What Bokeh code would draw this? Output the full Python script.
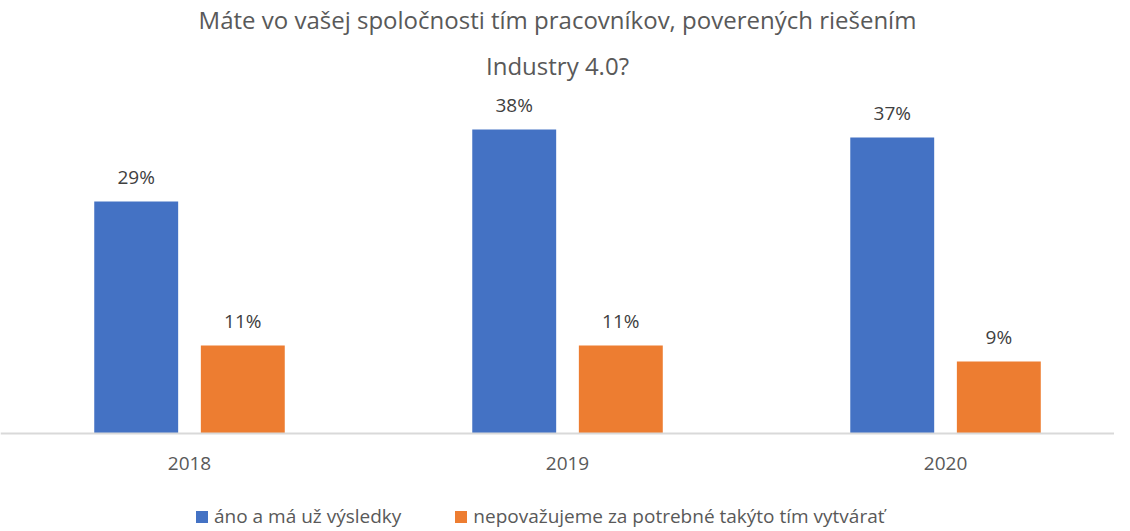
from bokeh.plotting import figure
from bokeh.models import ColumnDataSource, Range1d, FixedTicker, Title, Legend, LegendItem
from bokeh.transform import dodge
from bokeh.core.properties import value
from bokeh.embed import file_html
from bokeh.resources import INLINE

title_lines = ["Máte vo vašej spoločnosti tím pracovníkov, poverených riešením", "Industry 4.0?"]
years = ["2018", "2019", "2020"]
series_names = ["áno a má už výsledky", "nepovažujeme za potrebné takýto tím vytvárať"]
ano = [29, 38, 37]
nepovazujeme = [11, 11, 9]
colors = ["#4472C4", "#ED7D31"]

FONT = "Open Sans"
TXT = "#595959"

idx = list(range(len(years)))
src = ColumnDataSource(dict(
    x=idx, ano=ano, nep=nepovazujeme,
    ano_lbl=[f"{v}%" for v in ano], nep_lbl=[f"{v}%" for v in nepovazujeme],
))

# frame extends below the baseline so the legend can sit inside it
p = figure(frame_width=1114, frame_height=434, output_backend="svg", toolbar_location=None,
           x_range=Range1d(-0.5, 2.447), y_range=Range1d(-12.125, 42.125),
           min_border_left=0, min_border_right=0, min_border_top=0, min_border_bottom=0)

# first added = closest to the plot frame
p.add_layout(Title(text=title_lines[1], align="center", text_font=FONT, text_font_size="24px",
                   text_font_style="normal", text_color=TXT, standoff=26,
                   vertical_align="top"), "above")
p.add_layout(Title(text=title_lines[0], align="center", text_font=FONT, text_font_size="24px",
                   text_font_style="normal", text_color=TXT, standoff=0), "above")

off = 0.141
w = 0.222
r1 = p.vbar(x=dodge("x", -off), top="ano", bottom=0, width=w, source=src,
            color=colors[0], line_color=None)
r2 = p.vbar(x=dodge("x", off), top="nep", bottom=0, width=w, source=src,
            color=colors[1], line_color=None)

for col, lbl, o in (("ano", "ano_lbl", -off), ("nep", "nep_lbl", off)):
    p.text(x=dodge("x", o), y=col, text=lbl, source=src, text_align="center",
           text_baseline="middle", y_offset=-25, text_font=value(FONT),
           text_font_size="19px", text_color="#404040")

p.xaxis.fixed_location = 0
p.xaxis.ticker = FixedTicker(ticks=idx)
p.xaxis.major_label_overrides = {i: y for i, y in zip(idx, years)}
p.xaxis.major_label_text_font = FONT
p.xaxis.major_label_text_font_size = "19px"
p.xaxis.major_label_text_color = TXT
p.xaxis.major_label_standoff = 23
p.xaxis.major_tick_out = 0
p.xaxis.major_tick_in = 0
p.xaxis.minor_tick_out = 0
p.xaxis.axis_label = None
p.xaxis.axis_line_color = "#D9D9D9"
p.xaxis.axis_line_width = 2
p.xaxis.major_tick_line_color = None
p.xaxis.minor_tick_line_color = None
p.yaxis.visible = False
p.xgrid.visible = False
p.ygrid.visible = False
p.outline_line_color = None

legend = Legend(items=[LegendItem(label=series_names[0], renderers=[r1]),
                       LegendItem(label=series_names[1], renderers=[r2])],
                orientation="horizontal", location=(194, 1),
                label_text_font=FONT, label_text_font_size="19px", label_text_color=TXT,
                glyph_width=15, glyph_height=15, label_standoff=5, spacing=52,
                padding=0, margin=0, border_line_color=None, background_fill_alpha=0)
p.add_layout(legend, "center")

open("out.html", "w").write(file_html(p, INLINE))
